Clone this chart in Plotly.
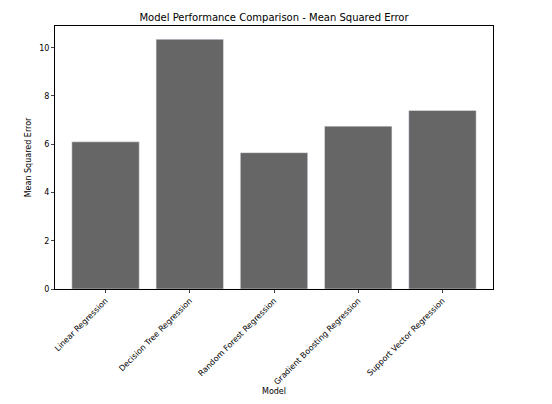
import plotly.graph_objects as go

models = ["Linear Regression", "Decision Tree Regression", "Random Forest Regression",
          "Gradient Boosting Regression", "Support Vector Regression"]
mse = [6.1, 10.35, 5.65, 6.75, 7.4]

fig = go.Figure(go.Bar(x=models, y=mse, marker_color="#666666", width=0.8))
fig.update_layout(
    width=552, height=404,
    paper_bgcolor="white", plot_bgcolor="white",
    font=dict(family="DejaVu Sans", size=8, color="black"),
    title=dict(text="Model Performance Comparison - Mean Squared Error", x=0.5, y=0.985,
               xanchor="center", xref="paper", font=dict(size=10)),
    margin=dict(l=47, r=67, t=18, b=123, autoexpand=False),
    showlegend=False,
)
fig.update_xaxes(title=dict(text="Model", font=dict(size=8), standoff=2), tickangle=-45,
                 showline=True, mirror=True, automargin=False,
                 linecolor="black", linewidth=1, ticks="outside", ticklen=3, range=[-0.6, 4.6])
fig.update_yaxes(title=dict(text="Mean Squared Error", font=dict(size=8), standoff=6), automargin=False,
                 range=[0, 10.9], dtick=2, showline=True, mirror=True,
                 linecolor="black", linewidth=1, ticks="outside", ticklen=3, showgrid=False, zeroline=False)
fig.write_html("out.html")
